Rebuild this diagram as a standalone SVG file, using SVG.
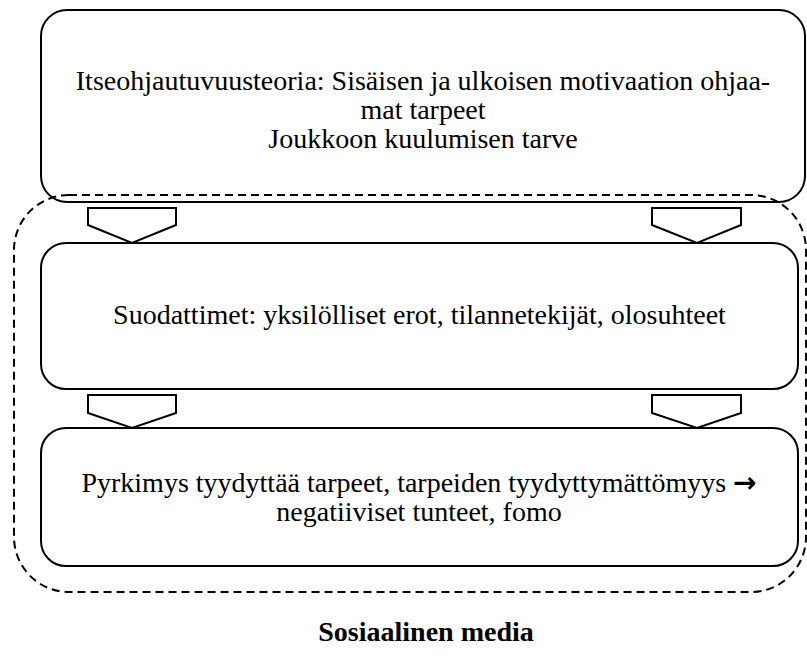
<svg xmlns="http://www.w3.org/2000/svg" width="807" height="662" viewBox="0 0 807 662">
<style>
.box{fill:none;stroke:#000;stroke-width:2}
.chev{fill:#fff;stroke:#000;stroke-width:2;stroke-linejoin:miter}
.dash{fill:none;stroke:#000;stroke-width:2;stroke-dasharray:8 5}
text{font-family:"Liberation Serif","Times New Roman",serif;font-size:28px;fill:#000;text-anchor:middle}
.b{font-weight:bold}
.arr{font-family:"Noto Sans","DejaVu Sans",sans-serif;font-size:28px;font-weight:600}
</style>
<rect width="807" height="662" fill="#fff"/>
<g id="node-theory">
<rect class="box" x="41" y="10" width="764" height="192" rx="26"/>
<text x="423" y="90">Itseohjautuvuusteoria: Sisäisen ja ulkoisen motivaation ohjaa-</text>
<text x="423" y="119">mat tarpeet</text>
<text x="423" y="148">Joukkoon kuulumisen tarve</text>
</g>
<g id="node-social-media">
<rect class="dash" x="14" y="195" width="792" height="397" rx="55"/>
<text class="b" x="426" y="641">Sosiaalinen media</text>
</g>
<g id="node-filters">
<rect class="box" x="41" y="243" width="757" height="146" rx="25"/>
<text x="419.5" y="324">Suodattimet: yksilölliset erot, tilannetekijät, olosuhteet</text>
</g>
<g id="node-outcome">
<rect class="box" x="41" y="428" width="757" height="138" rx="25"/>
<text x="419" y="492">Pyrkimys tyydyttää tarpeet, tarpeiden tyydyttymättömyys <tspan class="arr">→</tspan></text>
<text x="419" y="521">negatiiviset tunteet, fomo</text>
</g>
<g id="connectors">
<polygon class="chev" points="88,208 176,208 176,225 132,243 88,225"/>
<polygon class="chev" points="652,208 741,208 741,225 697,243 652,225"/>
<polygon class="chev" points="88,395 176,395 176,413 132,428 88,413"/>
<polygon class="chev" points="652,395 741,395 741,413 697,428 652,413"/>
</g>
</svg>
